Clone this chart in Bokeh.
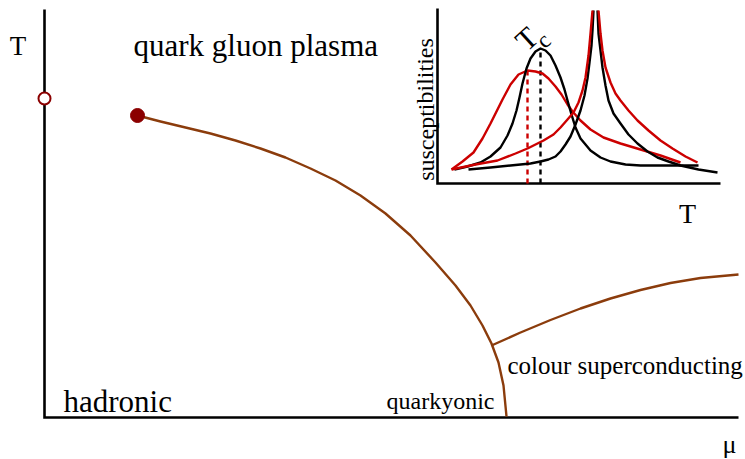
from bokeh.plotting import figure
from bokeh.models import Range1d
from bokeh.embed import file_html
from bokeh.resources import INLINE
from bokeh.core.properties import value

# ---------------- phase diagram (chemical potential mu, temperature T; arbitrary units)
crossover_mu = [93, 116, 141, 166, 191, 216, 241, 266, 291, 316, 341, 366, 391, 411, 426, 438, 447, 454, 459, 462]
crossover_T = [301, 295, 289, 283, 276, 268, 259, 248, 236, 221, 203, 181, 154, 131, 111, 91, 73, 54, 31, 0]

csc_mu = [447, 476, 506, 536, 566, 596, 626, 656, 694]
csc_T = [71, 84, 96.5, 108, 118, 126.5, 133.5, 138.5, 142]

critical_point = (93, 301)
pseudo_point = (0, 318)

# ---------------- inset: susceptibilities vs T
red_peak_T = [14, 25, 36, 45, 53, 59, 65, 73, 81, 90, 98, 105, 111, 118, 124, 130, 135, 143, 153, 166, 183, 203, 223, 243]
red_peak_chi = [14, 22, 31, 45, 60, 72, 84, 99, 109, 113, 112, 110, 105, 97, 89, 79, 72, 63, 54, 46, 40, 34, 28, 21]

black_peak_T = [17, 30, 43, 53, 63, 70, 75, 79, 82, 85, 89, 93, 98, 103, 108, 113, 118, 123, 127, 130, 134, 138, 143, 153, 163, 173, 188, 203, 233, 261]
black_peak_chi = [14, 17, 21, 27, 36, 48, 60, 73, 86, 100, 115, 125, 132, 135, 133, 128, 118, 106, 94, 83, 69, 56, 45, 33, 26, 22, 19, 18, 18, 18]

black_div_T = [31, 53, 73, 93, 103, 111, 118, 123, 128, 133, 138, 143, 147, 150, 152, 154, 155, 156,
               None,
               160, 161, 163, 165, 168, 171, 176, 183, 191, 200, 210, 220, 231, 243, 261, 280]
black_div_chi = [14, 16, 18, 20, 22, 24, 27, 32, 39, 47, 59, 73, 88, 105, 121, 138, 153, 173,
                 None,
                 173, 150, 133, 116, 98, 83, 70, 60, 49, 40, 32, 26, 22, 18, 14, 11]

red_div_T = [14, 38, 60, 78, 90, 106, 116, 123, 130, 136, 141, 145, 148, 151, 153, 155,
             None,
             161, 163, 165, 168, 173, 178, 183, 191, 200, 211, 223, 235, 248, 260]
red_div_chi = [14, 19, 23, 30, 35, 43, 49, 56, 64, 71, 81, 93, 106, 128, 150, 173,
               None,
               173, 150, 133, 116, 101, 90, 83, 73, 63, 53, 43, 35, 27, 21]

BROWN = "#8b3c0c"
DARKRED = "#8b0000"
RED = "#cc0000"
FONT = value("Liberation Serif")


def split(xs, ys):
    """Break a list with a None gap into separate branches."""
    out, cx, cy = [], [], []
    for a, b in zip(xs, ys):
        if a is None:
            out.append((cx, cy))
            cx, cy = [], []
        else:
            cx.append(a)
            cy.append(b)
    out.append((cx, cy))
    return out


p = figure(width=745, height=459,
           x_range=Range1d(-44, 701), y_range=Range1d(-43, 416),
           x_axis_type=None, y_axis_type=None,
           toolbar_location=None, output_backend="svg", min_border=0)
p.outline_line_color = None
p.background_fill_color = "white"
p.border_fill_color = "white"
p.extra_x_ranges = {"ix": Range1d(-437, 308)}
p.extra_y_ranges = {"iy": Range1d(-276, 183)}

# main axes
p.line([0, 0, 694], [407, -1, -1], line_color="black", line_width=2.6, line_join="miter")

# phase boundaries
p.line(crossover_mu, crossover_T, line_color=BROWN, line_width=2.4, line_join="round")
p.line(csc_mu, csc_T, line_color=BROWN, line_width=2.4, line_join="round")

# critical end point and the mu = 0 pseudo-critical point
p.scatter([critical_point[0]], [critical_point[1]], size=14, fill_color=DARKRED,
          line_color=DARKRED)
p.scatter([pseudo_point[0]], [pseudo_point[1]], size=12, fill_color="white",
          line_color=DARKRED, line_width=2)

# labels of the main diagram
p.text(x=[-26.5], y=[371], text=["T"], text_font=FONT, text_font_size="27px",
       text_align="center", text_baseline="alphabetic", text_color="black")
p.text(x=[89], y=[371], text=["quark gluon plasma"], text_font=FONT, text_font_size="31px",
       text_align="left", text_baseline="alphabetic", text_color="black")
p.text(x=[19], y=[15], text=["hadronic"], text_font=FONT, text_font_size="31px",
       text_align="left", text_baseline="alphabetic", text_color="black")
p.text(x=[450], y=[16], text=["quarkyonic"], text_font=FONT, text_font_size="24px",
       text_align="right", text_baseline="alphabetic", text_color="black")
p.text(x=[463], y=[51], text=["colour superconducting"], text_font=FONT, text_font_size="25px",
       text_align="left", text_baseline="alphabetic", text_color="black")
p.text(x=[685], y=[-28], text=["μ"], text_font=FONT, text_font_size="26px",
       text_align="center", text_baseline="alphabetic", text_color="black")

# ---------------- inset
IR = dict(x_range_name="ix", y_range_name="iy")
p.line([0, 0, 283], [175, 0, 0], line_color="black", line_width=2.6, line_join="miter", **IR)
p.line([-4, 0], [53, 53], line_color="black", line_width=1.5, **IR)

# dashed markers at the crossover peaks
r_i = red_peak_chi.index(max(red_peak_chi))
b_i = black_peak_chi.index(max(black_peak_chi))
p.line([red_peak_T[r_i]] * 2, [0, red_peak_chi[r_i]], line_color=RED, line_width=2.4,
       line_dash="5 4", **IR)
p.line([black_peak_T[b_i]] * 2, [0, black_peak_chi[b_i]], line_color="black", line_width=2.4,
       line_dash="5 4", **IR)

p.line(red_peak_T, red_peak_chi, line_color=RED, line_width=2.4, line_join="round", **IR)
p.line(black_peak_T, black_peak_chi, line_color="black", line_width=2.4, line_join="round", **IR)
for bx, by in split(black_div_T, black_div_chi):
    p.line(bx, by, line_color="black", line_width=2.4, line_join="round", **IR)
for rx, ry in split(red_div_T, red_div_chi):
    p.line(rx, ry, line_color=RED, line_width=2.4, line_join="round", **IR)

p.text(x=[-12], y=[74], text=["susceptibilities"], text_font=FONT, text_font_size="24px",
       text_align="center", text_baseline="middle", angle=1.5708, text_color="black", **IR)
p.text(x=[250], y=[-30], text=["T"], text_font=FONT, text_font_size="28px",
       text_align="center", text_baseline="alphabetic", text_color="black", **IR)
p.text(x=[89], y=[145], text=["T"], text_font=FONT, text_font_size="30px",
       text_align="center", text_baseline="middle", angle=0.74, text_color="black", **IR)
p.text(x=[106], y=[143], text=["c"], text_font=FONT, text_font_size="23px",
       text_align="center", text_baseline="middle", angle=0.74, text_color="black", **IR)

open("out.html", "w").write(file_html(p, INLINE))
